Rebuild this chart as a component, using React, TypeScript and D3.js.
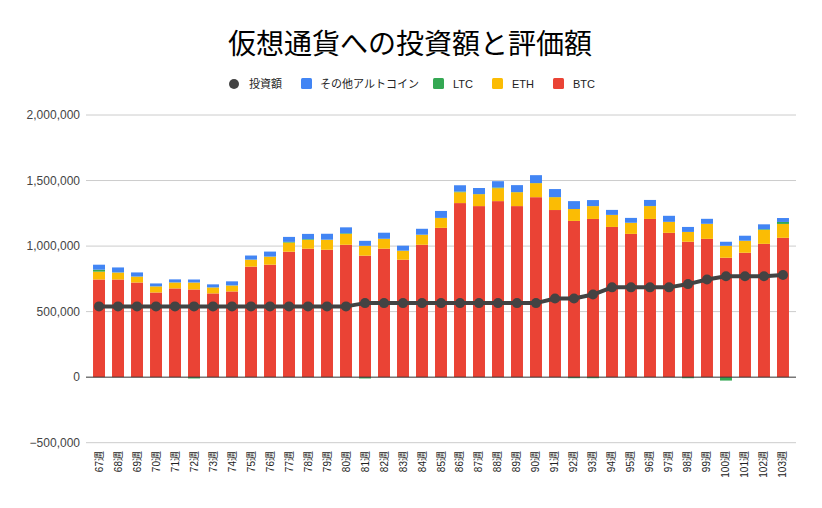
import React from "react";
import * as d3 from "d3";

const weeks = ["67週","68週","69週","70週","71週","72週","73週","74週","75週","76週","77週","78週","79週","80週","81週","82週","83週","84週","85週","86週","87週","88週","89週","90週","91週","92週","93週","94週","95週","96週","97週","98週","99週","100週","101週","102週","103週"];

const btc = [745000,745000,722000,646000,677000,669000,639000,654000,843000,858000,957000,980000,972000,1010000,927000,980000,896000,1010000,1139000,1328000,1305000,1343000,1305000,1373000,1275000,1192000,1207000,1146000,1093000,1207000,1101000,1033000,1055000,911000,949000,1017000,1063000];
const eth = [60000,53000,45000,46000,45000,53000,45000,45000,53000,61000,70000,68000,76000,83000,75000,75000,68000,76000,75000,83000,91000,99000,106000,107000,98000,91000,98000,91000,84000,98000,83000,75000,114000,91000,91000,107000,106000];
const ltc = [15000,1000,1000,1000,1000,-10000,1000,1000,1000,1000,5000,5000,1000,5000,-10000,1000,1000,1000,1000,5000,1000,5000,1000,1000,1000,-8000,-8000,1000,1000,1000,1000,-8000,1000,-26000,1000,5000,15000];
const others = [38000,38000,31000,22000,23000,23000,23000,31000,31000,38000,38000,40000,45000,45000,38000,46000,38000,45000,53000,48000,46000,48000,53000,60000,61000,60000,46000,38000,37000,46000,46000,38000,38000,31000,38000,37000,30000];
const invest = [540000,540000,540000,540000,540000,540000,540000,540000,540000,540000,540000,540000,540000,540000,565000,565000,565000,565000,565000,565000,565000,565000,565000,565000,600000,600000,630000,685000,685000,685000,685000,710000,745000,770000,770000,770000,780000];

const yTicks = [-500000, 0, 500000, 1000000, 1500000, 2000000];

const seriesKeys = ["BTC", "ETH", "LTC", "other"];
const colors: Record<string, string> = { BTC: "#ea4335", ETH: "#fbbc04", LTC: "#34a853", other: "#4285f4" };

const FONT = "'Liberation Sans', Arial, 'Noto Sans CJK JP', sans-serif";

export default function App() {
  const W = 822, H = 508;
  const x = d3.scaleBand<string>().domain(weeks).range([86, 796]).paddingInner(0.37).paddingOuter(0.37);
  const y = d3.scaleLinear().domain([-500000, 2000000]).range([442.7, 115]);

  const rows = weeks.map((w, i) => ({ week: w, BTC: btc[i], ETH: eth[i], LTC: ltc[i], other: others[i] }));
  const stacked = d3.stack<any>().keys(seriesKeys).offset(d3.stackOffsetDiverging)(rows);

  const line = d3.line<number>().x((_, i) => (x(weeks[i]) as number) + x.bandwidth() / 2).y((d) => y(d));
  const fmt = d3.format(",");

  const legend = [
    { label: "投資額", type: "circle", color: "#434343", x: 234, tx: 249 },
    { label: "その他アルトコイン", type: "rect", color: colors.other, x: 301, tx: 320 },
    { label: "LTC", type: "rect", color: colors.LTC, x: 433, tx: 453 },
    { label: "ETH", type: "rect", color: colors.ETH, x: 492, tx: 512 },
    { label: "BTC", type: "rect", color: colors.BTC, x: 553, tx: 573 },
  ];

  return (
    <svg width={W} height={H} style={{ display: "block", position: "absolute", left: 0, top: 0 }} fontFamily={FONT}>
      <rect x={0} y={0} width={W} height={H} fill="#fff" />
      <text x={410} y={54} textAnchor="middle" fontSize={28} fill="#000">仮想通貨への投資額と評価額</text>
      {legend.map((l) => (
        <g key={l.label}>
          {l.type === "circle" ? (
            <circle cx={l.x} cy={84} r={5} fill={l.color} />
          ) : (
            <rect x={l.x} y={78} width={11} height={11} rx={1.5} fill={l.color} />
          )}
          <text x={l.tx} y={88} fontSize={11} fill="#222">{l.label}</text>
        </g>
      ))}
      {yTicks.map((t) => (
        <g key={t}>
          {t !== 0 && <line x1={86} x2={796} y1={y(t)} y2={y(t)} stroke="#cccccc" strokeWidth={1} />}
          <text x={80} y={y(t) + 4} textAnchor="end" fontSize={12} fill="#444">{fmt(t)}</text>
        </g>
      ))}
      {stacked.map((s) => (
        <g key={s.key} fill={colors[s.key]}>
          {s.map((d, i) => {
            const y0 = y(d[0]), y1 = y(d[1]);
            const top = Math.min(y0, y1), h = Math.abs(y0 - y1);
            if (h < 0.01) return null;
            return <rect key={i} x={x(weeks[i])} y={top} width={x.bandwidth()} height={h} />;
          })}
        </g>
      ))}
      <line x1={86} x2={796} y1={y(0)} y2={y(0)} stroke="#333" strokeWidth={1} />
      <path d={line(invest) || ""} fill="none" stroke="#434343" strokeWidth={4} strokeLinejoin="round" />
      {invest.map((v, i) => (
        <circle key={i} cx={(x(weeks[i]) as number) + x.bandwidth() / 2} cy={y(v)} r={5} fill="#434343" />
      ))}
      {weeks.map((w) => {
        const cx = (x(w) as number) + x.bandwidth() / 2;
        return (
          <text key={w} transform={`translate(${cx + 3.5},451) rotate(-90)`} textAnchor="end" fontSize={10} fill="#222">{w}</text>
        );
      })}
    </svg>
  );
}
